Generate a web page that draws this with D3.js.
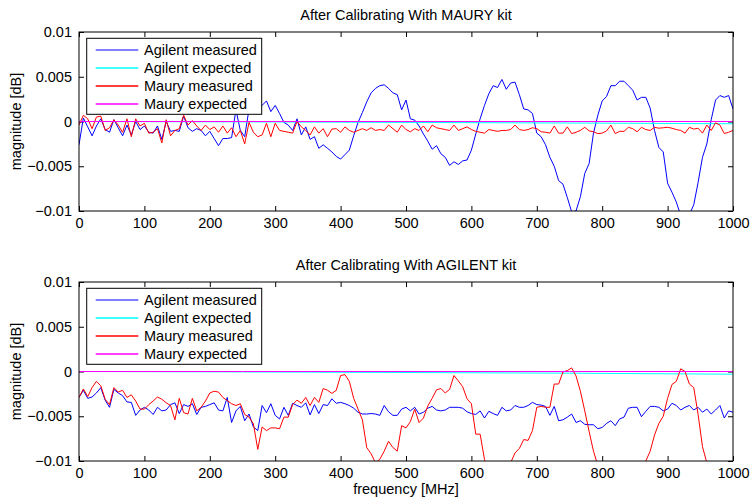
<!DOCTYPE html>
<html>
<head>
<meta charset="utf-8">
<script src="https://cdn.jsdelivr.net/npm/d3@7"></script>
<style>
  body { margin: 0; background: #fff; }
  text { font-family: "Liberation Sans", Arial, Helvetica, sans-serif; }
</style>
</head>
<body>
<svg id="chart" width="751" height="498"></svg>
<script>
// frequency grid in MHz (151 points, 0..1000)
var freq = d3.range(151).map(function(i) { return i * 1000 / 150; });

// all magnitudes below are in units of 0.001 dB

// --- After Calibrating With MAURY kit ---
var maury_agilentMeas = [
  -2.6, 0.4, -0.6, -1.6, -0.5, 0.3, -0.9, -1.2, 0.2, -0.7,
  -1.6, -0.4, -1.5, 0.0, -0.9, -0.5, -1.2, -1.3, -0.5, -2.0,
  0.0, -1.1, -1.0, -1.1, 0.6, -0.7, -1.1, -0.8, -1.0, -1.6,
  -1.1, -1.9, -2.7, -1.9, -1.9, -1.8, 1.3, -1.0, -1.7, 1.4,
  1.5, 1.3, 1.8, 2.3, 1.1, 1.8, 0.9, -0.1, -0.4, -1.0,
  0.3, -1.5, -0.6, -2.0, -1.7, -3.0, -2.6, -3.0, -3.4, -3.9,
  -4.2, -3.7, -3.2, -1.6, -0.1, 1.0, 2.2, 3.2, 3.7, 4.0,
  4.1, 3.7, 3.2, 3.0, 1.3, 2.4, 0.3, 0.15, -0.5, -1.4,
  -2.2, -3.1, -2.7, -3.6, -4.0, -4.9, -4.5, -4.8, -4.4, -4.3,
  -3.2, -1.4, 0.3, 1.8, 3.1, 4.0, 3.8, 4.7, 3.6, 4.3,
  4.4, 3.0, 1.4, 1.3, 0.9, -1.3, -1.7, -2.6, -4.0, -5.0,
  -6.6, -7.0, -8.5, -10.1, -10.0, -8.4, -5.8, -4.7, -1.3, 0.7,
  2.3, 2.8, 4.0, 4.0, 4.5, 4.5, 4.0, 3.5, 2.4, 2.7,
  2.7, 1.5, -1.0, -2.9, -3.4, -6.9, -7.9, -9.0, -10.5, -11.2,
  -10.4, -9.3, -6.8, -4.0, -2.5, 0.2, 2.4, 2.9, 2.7, 2.9,
  1.4];
var maury_mauryMeas = [
  -0.4, 0.7, 0.3, -0.8, 0.5, 0.6, -1.0, -0.7, 0.2, -0.4,
  -1.2, 0.3, -1.7, 0.3, -0.5, -0.2, -1.3, -1.2, -0.8, -2.4,
  0.2, -1.6, -1.0, -0.8, 0.7, -0.4, 0.1, -0.5, -1.0, -0.4,
  -0.9, -0.6, -1.2, -0.5, -1.3, -0.7, -1.7, -1.0, -2.5, -0.1,
  -1.2, -1.7, -1.5, -0.2, -1.7, -0.2, -1.0, -1.1, -1.2, -1.3,
  0.0, -0.6, -1.0, -1.5, -0.6, -1.3, -0.8, -1.7, -0.85, -0.8,
  -1.2, -0.6, -1.0, -1.2, -1.0, -0.8, -1.0, -0.7, -1.0, -0.9,
  -1.0, -0.4, -0.8, -1.2, -0.4, -0.9, -1.15, -0.8, -1.0, -0.5,
  -1.15, -0.4, -0.7, -0.8, -0.9, -1.0, -0.4, -1.0, -0.8, -0.6,
  -0.9, -1.1, -1.2, -1.3, -0.9, -1.0, -1.1, -1.0, -1.0, -0.9,
  -0.4, -0.9, -1.0, -0.9, -0.7, -0.8, -1.15, -1.2, -1.3, -0.5,
  -1.3, -1.3, -0.6, -1.35, -1.2, -1.0, -0.65, -1.05, -1.15, -1.35,
  -1.3, -1.05, -0.4, -1.35, -1.1, -1.1, -0.65, -0.8, -1.15, -0.65,
  -0.9, -1.0, -0.65, -0.75, -0.7, -0.65, -0.75, -0.9, -1.0, -1.3,
  -0.65, -0.85, -0.75, -1.3, -0.4, -1.0, -0.15, -0.4, -1.35, -1.2,
  -1.0];

// --- After Calibrating With AGILENT kit ---
var agil_agilentMeas = [
  -2.9, -2.1, -3.0, -2.85, -2.4, -1.8, -3.2, -4.0, -2.0, -2.4,
  -2.7, -3.4, -3.45, -4.9, -4.3, -4.0, -4.3, -4.8, -4.0, -4.4,
  -4.3, -3.7, -3.5, -4.7, -3.7, -3.9, -3.6, -4.8, -4.0, -3.9,
  -3.7, -3.5, -4.3, -4.4, -2.9, -5.7, -4.4, -3.9, -5.5, -4.75,
  -6.2, -6.6, -3.8, -4.6, -3.6, -4.9, -5.3, -4.0, -4.9, -3.55,
  -3.8, -4.0, -3.5, -4.85, -3.7, -4.7, -3.7, -3.8, -3.05, -3.55,
  -3.45, -3.6, -3.8, -4.1, -4.55, -4.75, -4.75, -4.7, -4.75, -4.9,
  -3.8, -4.5, -4.9, -4.9, -4.2, -4.0, -4.4, -4.0, -4.75, -4.55,
  -4.1, -3.9, -4.3, -4.4, -4.3, -4.0, -4.0, -4.0, -4.1, -4.5,
  -4.7, -4.8, -4.4, -5.2, -4.45, -4.7, -4.9, -4.0, -4.4, -4.3,
  -3.8, -4.0, -4.0, -3.8, -3.45, -3.7, -3.75, -3.9, -4.9, -3.9,
  -5.5, -5.4, -5.1, -4.75, -5.7, -5.5, -5.9, -5.95, -5.95, -6.4,
  -6.25, -5.8, -5.5, -6.05, -5.3, -5.1, -4.1, -4.0, -4.0, -5.05,
  -4.45, -3.9, -3.9, -4.0, -4.4, -4.2, -3.55, -3.8, -4.3, -4.0,
  -3.8, -4.3, -4.0, -4.55, -4.2, -4.75, -4.3, -3.8, -5.2, -4.4,
  -4.55];
var agil_mauryMeas = [
  -2.9, -1.95, -2.8, -1.8, -1.1, -1.6, -3.1, -3.7, -1.8, -2.3,
  -2.1, -2.9, -2.6, -3.3, -4.2, -4.2, -3.7, -3.3, -2.85, -3.1,
  -3.5, -3.8, -5.4, -3.0, -4.6, -4.75, -3.0, -4.4, -4.0, -3.3,
  -2.4, -2.2, -2.3, -2.9, -3.25, -3.6, -3.8, -3.6, -4.8, -5.1,
  -5.85, -8.7, -6.2, -6.6, -6.3, -6.3, -6.4, -5.1, -5.1, -3.7,
  -3.2, -3.55, -2.9, -3.8, -2.9, -3.45, -1.9, -2.1, -2.45, -2.1,
  -0.45, -0.35, -1.1, -3.0, -4.2, -5.4, -8.5, -9.2, -10.2, -9.8,
  -8.9, -7.8, -8.5, -8.9, -6.05, -6.3, -5.6, -4.2, -5.7, -5.2,
  -3.85, -3.0, -2.05, -1.9, -2.4, -2.0, -0.45, -1.05, -1.7, -3.05,
  -3.6, -7.0, -7.0, -9.8, -11.5, -12.5, -13.0, -12.8, -11.8, -10.2,
  -9.1, -8.6, -7.6, -7.7, -6.6, -4.0, -3.9, -4.0, -4.0, -1.4,
  -1.4, -0.05, 0.1, 0.4, -0.5, -2.2, -4.4, -6.7, -8.9, -10.5,
  -12.0, -13.2, -14.0, -14.3, -14.4, -14.0, -13.5, -12.8, -12.0, -11.0,
  -10.0, -8.9, -7.1, -5.8, -5.0, -3.0, -1.45, -1.1, 0.3, 0.0,
  -1.4, -1.8, -4.8, -8.4, -10.2, -11.5, -12.5, -13.0, -13.3, -13.5,
  -13.6];

// expected curves, read at a few frequencies
var expFreq = [0, 250, 500, 750, 1000];
var maury_agilentExp = [0, -0.04, -0.1, -0.17, -0.25];
var maury_mauryExp   = [0, 0, 0, 0, 0];
var agil_agilentExp  = [0, -0.05, -0.11, -0.19, -0.3];
var agil_mauryExp    = [0, 0, 0, 0, 0];

var seriesNames = ["Agilent measured", "Agilent expected", "Maury measured", "Maury expected"];
var seriesColors = ["#0000ff", "#00ffff", "#ff0000", "#ff00ff"];

var xTicks = [0, 100, 200, 300, 400, 500, 600, 700, 800, 900, 1000];
var yTicks = [-0.01, -0.005, 0, 0.005, 0.01];
var yTickLabels = ["\u22120.01", "\u22120.005", "0", "0.005", "0.01"];

var svg = d3.select("#chart"),
    left = 79, width = 654, height = 179;

var x = d3.scaleLinear().domain([0, 1000]).range([0, width]),
    y = d3.scaleLinear().domain([-0.01, 0.01]).range([height, 0]);

var line = d3.line()
    .x(function(d) { return x(d[0]); })
    .y(function(d) { return y(d[1] / 1000); });

function pairs(xs, ys) {
  return xs.map(function(f, i) { return [f, ys[i]]; });
}

function drawPanel(top, id, title, agMeas, agExp, maMeas, maExp, showXLabel) {
  var g = svg.append("g").attr("transform", "translate(" + left + "," + top + ")");

  g.append("clipPath").attr("id", id)
    .append("rect").attr("width", width).attr("height", height);

  // ticks on all four sides, pointing inward
  g.append("g")
      .attr("transform", "translate(0," + height + ")")
      .call(d3.axisBottom(x).tickValues(xTicks).tickSize(-5).tickPadding(7)
        .tickFormat(d3.format("d")));
  g.append("g")
      .call(d3.axisTop(x).tickValues(xTicks).tickSize(-5).tickFormat(""));
  g.append("g")
      .call(d3.axisLeft(y).tickValues(yTicks).tickSize(-5).tickPadding(7)
        .tickFormat(function(d, i) { return yTickLabels[i]; }));
  g.append("g")
      .attr("transform", "translate(" + width + ",0)")
      .call(d3.axisRight(y).tickValues(yTicks).tickSize(-5).tickFormat(""));

  g.selectAll(".domain").remove();
  g.selectAll(".tick line").attr("stroke", "#000");
  g.selectAll(".tick text")
      .attr("fill", "#000")
      .style("font-size", "14.5px");

  var data = [pairs(freq, agMeas), pairs(expFreq, agExp), pairs(freq, maMeas), pairs(expFreq, maExp)];

  g.append("g")
      .attr("clip-path", "url(#" + id + ")")
    .selectAll("path")
    .data(data)
    .enter().append("path")
      .attr("d", line)
      .attr("fill", "none")
      .attr("stroke", function(d, i) { return seriesColors[i]; })
      .attr("stroke-width", 1);

  g.append("rect")
      .attr("width", width).attr("height", height)
      .attr("fill", "none").attr("stroke", "#000").attr("stroke-width", 1);

  // legend
  var lg = g.append("g").attr("transform", "translate(7.7,6.3)");
  lg.append("rect")
      .attr("width", 175).attr("height", 76)
      .attr("fill", "#fff").attr("stroke", "#000").attr("stroke-width", 1);
  var item = lg.selectAll(".item")
      .data(seriesNames)
    .enter().append("g")
      .attr("class", "item")
      .attr("transform", function(d, i) { return "translate(0," + (11.7 + i * 18) + ")"; });
  item.append("line")
      .attr("x1", 9).attr("x2", 51.6)
      .attr("stroke", function(d, i) { return seriesColors[i]; })
      .attr("stroke-width", function(d, i) { return i == 0 ? 1 : 1.5; });
  item.append("text")
      .attr("x", 57.3).attr("dy", "0.35em")
      .style("font-size", "14.5px")
      .text(function(d) { return d; });

  g.append("text")
      .attr("x", width / 2).attr("y", -12)
      .attr("text-anchor", "middle")
      .style("font-size", "14.5px")
      .text(title);

  g.append("text")
      .attr("transform", "translate(-58," + (height / 2) + ") rotate(-90)")
      .attr("text-anchor", "middle")
      .style("font-size", "14.5px")
      .text("magnitude [dB]");

  if (showXLabel)
    g.append("text")
        .attr("x", width / 2).attr("y", height + 33)
        .attr("text-anchor", "middle")
        .style("font-size", "14.5px")
        .text("frequency [MHz]");
}

drawPanel(32, "clipTop", "After Calibrating With MAURY kit",
  maury_agilentMeas, maury_agilentExp, maury_mauryMeas, maury_mauryExp, false);
drawPanel(282, "clipBottom", "After Calibrating With AGILENT kit",
  agil_agilentMeas, agil_agilentExp, agil_mauryMeas, agil_mauryExp, true);
</script>
</body>
</html>
